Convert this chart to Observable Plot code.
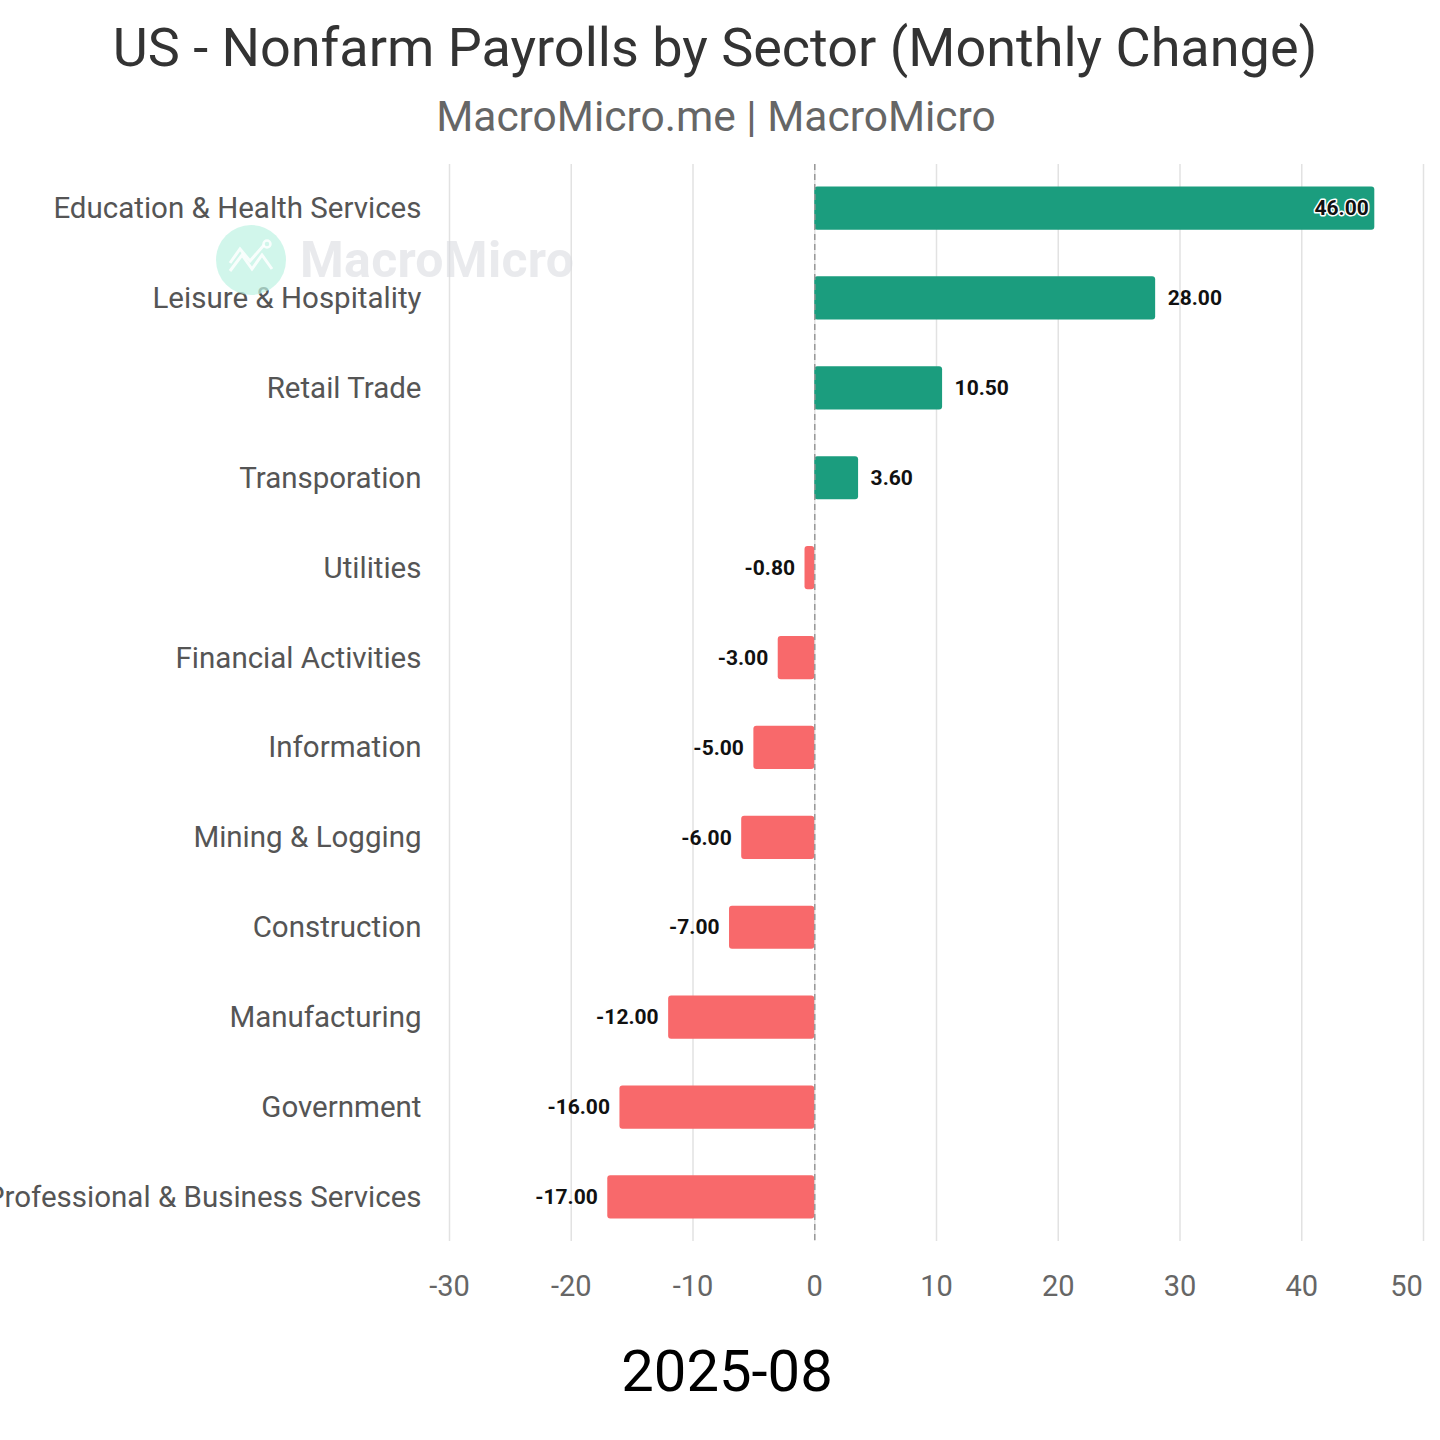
<!DOCTYPE html>
<html>
<head>
<meta charset="utf-8">
<script src="https://cdn.jsdelivr.net/npm/d3@7"></script>
<script src="https://cdn.jsdelivr.net/npm/@observablehq/plot@0.6"></script>
<style>
  html, body { margin: 0; padding: 0; background: #fff; width: 1440px; height: 1440px; overflow: hidden; }
  body { position: relative; font-family: Roboto, "Noto Sans", sans-serif; }
  .abs { position: absolute; left: 0; width: 1440px; text-align: center; white-space: nowrap; }
  #title { top: 12px; font-size: 54px; color: #333; line-height: 72px; left: -5px; }
  #subtitle { top: 89px; font-size: 42.5px; color: #666; line-height: 56px; left: -4px; }
  #chart { position: absolute; left: 0; top: 140px; }
  #date { top: 1334px; font-size: 58px; color: #000; line-height: 74px; left: 7px; }
  #wm-circle { position: absolute; left: 216px; top: 225px; width: 70px; height: 70px; border-radius: 50%; background: rgba(190, 242, 226, 0.7); }
  #wm-circle svg { position: absolute; left: 0; top: 0; }
  #wm-text { position: absolute; left: 300px; top: 231px; font-size: 50px; font-weight: 700; color: rgba(215, 216, 222, 0.55); line-height: 58px; letter-spacing: 0.3px; }
</style>
</head>
<body>
<div id="title" class="abs">US - Nonfarm Payrolls by Sector (Monthly Change)</div>
<div id="subtitle" class="abs">MacroMicro.me | MacroMicro</div>
<div id="chart"></div>
<div id="date" class="abs">2025-08</div>
<div id="wm-circle"><svg width="70" height="70" viewBox="0 0 70 70"><polyline points="14,46 26,30 36,44 46,30 56,44" fill="none" stroke="rgba(255,255,255,0.85)" stroke-width="3"/><polyline points="14,38 24,24 34,36 48,20" fill="none" stroke="rgba(255,255,255,0.85)" stroke-width="3"/><circle cx="51" cy="19" r="3.5" fill="none" stroke="rgba(255,255,255,0.85)" stroke-width="2.5"/></svg></div>
<div id="wm-text">MacroMicro</div>
<script>
const sectors = [
  "Education & Health Services",
  "Leisure & Hospitality",
  "Retail Trade",
  "Transporation",
  "Utilities",
  "Financial Activities",
  "Information",
  "Mining & Logging",
  "Construction",
  "Manufacturing",
  "Government",
  "Professional & Business Services"
];
const values = [46.0, 28.0, 10.5, 3.6, -0.8, -3.0, -5.0, -6.0, -7.0, -12.0, -16.0, -17.0];
const xTicks = [-30, -20, -10, 0, 10, 20, 30, 40, 50];
const posColor = "#1b9d7e";
const negColor = "#f8696b";

const data = sectors.map((s, i) => ({sector: s, value: values[i]}));
const posOutside = data.filter(d => d.value >= 0 && d.value <= 40);
const negOutside = data.filter(d => d.value < 0);
const inside = data.filter(d => d.value > 40);
const fmt = d => d.value.toFixed(2);

const chart = Plot.plot({
  width: 1440,
  height: 1170,
  marginLeft: 449,
  marginRight: 17,
  marginTop: 24,
  marginBottom: 69,
  style: {fontFamily: "Roboto, 'Noto Sans', sans-serif", overflow: "visible", background: "transparent"},
  x: {domain: [-30, 50], ticks: xTicks, label: null},
  y: {domain: sectors, label: null, paddingInner: 0.52, paddingOuter: 0.25, align: 0.5, round: false},
  marks: [
    Plot.gridX(xTicks, {stroke: "#e2e2e2", strokeOpacity: 1, strokeWidth: 1.5}),
    Plot.axisX(xTicks.filter(t => t < 50), {tickSize: 0, tickPadding: 34, fontSize: 29, fill: "#666", label: null,
      tickFormat: d => String(d)}),
    Plot.axisX(xTicks.filter(t => t >= 50), {tickSize: 0, tickPadding: 34, fontSize: 29, fill: "#666", label: null,
      tickFormat: d => String(d), dx: -17}),
    Plot.axisY({tickSize: 0, tickPadding: 28, fontSize: 29.5, fill: "#555", label: null}),
    Plot.barX(data, {x: "value", y: "sector", fill: d => d.value >= 0 ? posColor : negColor, rx: 3}),
    Plot.ruleX([0], {stroke: "#999", strokeWidth: 1.5, strokeDasharray: "6,4"}),
    Plot.text(posOutside, {x: "value", y: "sector", text: fmt, textAnchor: "start", dx: 12,
      fontSize: 21, fontWeight: 700, fill: "#111"}),
    Plot.text(negOutside, {x: "value", y: "sector", text: fmt, textAnchor: "end", dx: -10,
      fontSize: 21, fontWeight: 700, fill: "#111"}),
    Plot.text(inside, {x: "value", y: "sector", text: fmt, textAnchor: "end", dx: -6,
      fontSize: 21, fontWeight: 700, fill: "#111", stroke: "#fff", strokeWidth: 3})
  ]
});
document.getElementById("chart").appendChild(chart);
</script>
</body>
</html>
